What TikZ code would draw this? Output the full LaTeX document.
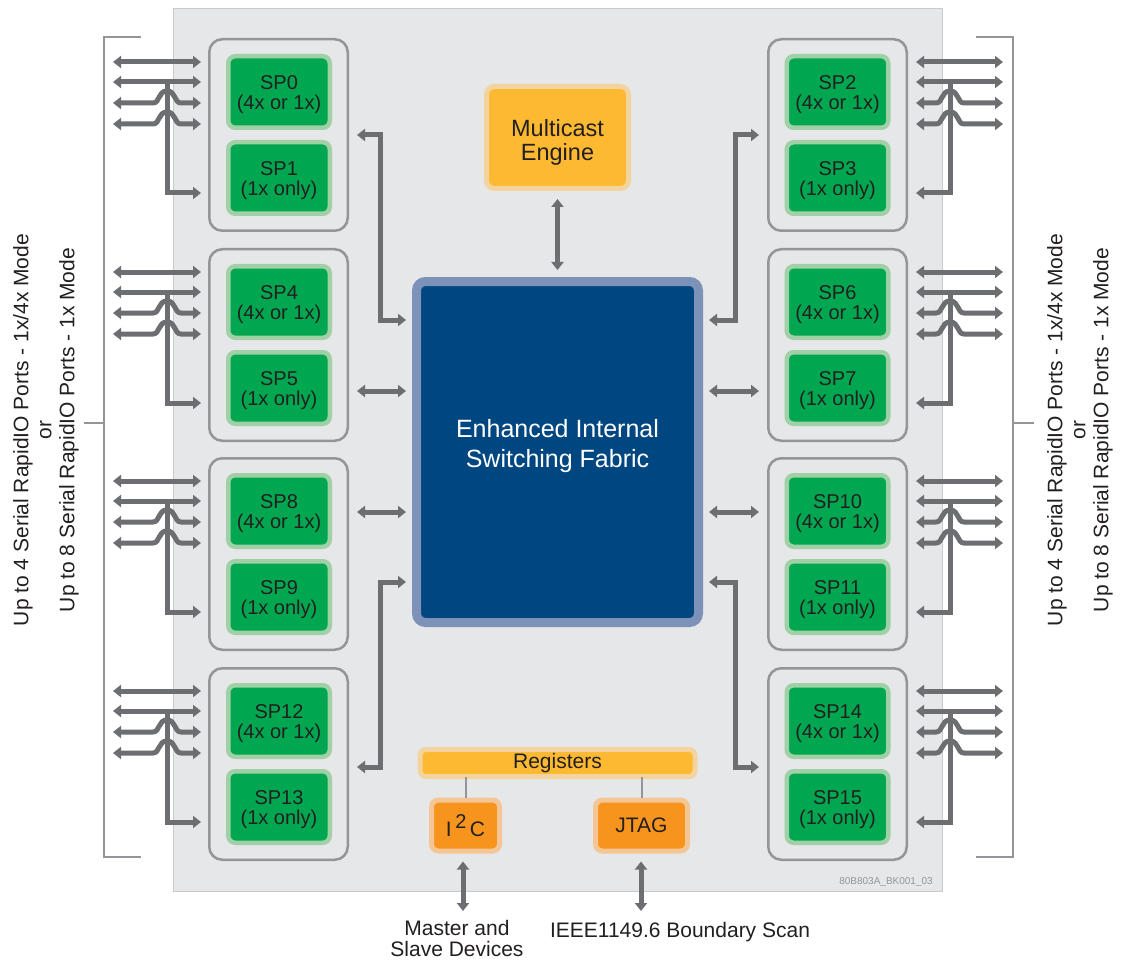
\documentclass[tikz,border=0pt]{standalone}
\usepackage{fontspec}
\setmainfont{Liberation Sans}
\usetikzlibrary{arrows.meta}
\definecolor{bgpanel}{HTML}{E6E7E8}
\definecolor{panelborder}{HTML}{C9CACC}
\definecolor{conn}{HTML}{6D6E71}
\definecolor{grpborder}{HTML}{939598}
\definecolor{spgreen}{HTML}{00A650}
\definecolor{spedge}{HTML}{9FD0A6}
\definecolor{fabblue}{HTML}{004680}
\definecolor{fabedge}{HTML}{7D92B8}
\definecolor{yel}{HTML}{FDB931}
\definecolor{yeledge}{HTML}{F3D49E}
\definecolor{orng}{HTML}{F7941D}
\definecolor{orngedge}{HTML}{F4C695}
\definecolor{txt}{HTML}{231F20}
\begin{document}
\begin{tikzpicture}[x=1pt,y=-1pt,
  grp/.style={draw=grpborder, line width=2.5pt, rounded corners=13pt, minimum width=138.5pt, minimum height=191.5pt, inner sep=0pt},
  spbox/.style={draw=spedge, line width=4.5pt, fill=spgreen, rounded corners=7pt, minimum width=101.5pt, minimum height=71.5pt, inner sep=0pt},
  sptext/.style={align=center, text=txt, font=\fontsize{20}{20}\selectfont, inner sep=0pt},
  fabbox/.style={draw=fabedge, line width=9pt, fill=fabblue, rounded corners=9pt, minimum width=282pt, minimum height=341pt},
  yelbox/.style={draw=yeledge, line width=5pt, fill=yel, rounded corners=8pt, inner sep=0pt, align=center, text=txt},
  orgbox/.style={draw=orngedge, line width=5pt, fill=orng, rounded corners=7pt, inner sep=0pt, align=center, text=txt, font=\fontsize{21}{22}\selectfont, minimum height=51pt},
  dbl/.style={draw=conn, line width=5pt, {Triangle[width=12pt,length=8pt]}-{Triangle[width=12pt,length=8pt]}, line join=miter},
  sgl/.style={draw=conn, line width=5pt, -{Triangle[width=12pt,length=8pt]}, line join=miter},
  brk/.style={draw=grpborder, line width=2pt},
  reglink/.style={draw=grpborder, line width=2pt},
  lbl/.style={text=txt, font=\fontsize{21}{21}\selectfont, align=center, inner sep=0pt}
]
\useasboundingbox (0,0) rectangle (1122,960);
\fill[white] (0,0) rectangle (1122,960);
% panel
\draw[fill=bgpanel, draw=panelborder, line width=1.2pt] (173.5,8.5) rectangle (942.5,891.5);

% groups and SP boxes
\foreach \k/\T in {0/38,1/248,2/457,3/667}{
  \pgfmathtruncatemacro\a{4*\k}
  \pgfmathtruncatemacro\b{4*\k+1}
  \pgfmathtruncatemacro\c{4*\k+2}
  \pgfmathtruncatemacro\d{4*\k+3}
  \node[grp] (gL\k) at (278.5,\T+97) {};
  \node[grp] (gR\k) at (837.5,\T+97) {};
  \node[spbox] (sp\a) at (279,\T+54) {};
  \node[spbox] (sp\b) at (279,\T+140) {};
  \node[spbox] (sp\c) at (837.5,\T+54) {};
  \node[spbox] (sp\d) at (837.5,\T+140) {};
  \node[sptext] at ([yshift=-3pt]sp\a) {SP\a\\(4x or 1x)};
  \node[sptext] at ([yshift=-3pt]sp\b) {SP\b\\(1x only)};
  \node[sptext] at ([yshift=-3pt]sp\c) {SP\c\\(4x or 1x)};
  \node[sptext] at ([yshift=-3pt]sp\d) {SP\d\\(1x only)};
  % left port arrows
  \draw[dbl] (113,\T+24) -- ([xshift=-7pt]gL\k.west |- 0,\T+24);
  \draw[dbl] (113,\T+44) -- ([xshift=-7pt]gL\k.west |- 0,\T+44);
  \draw[sgl] (167,\T+44) -- (167,\T+155) -- ([xshift=-7pt]gL\k.west |- 0,\T+155);
  \foreach \y in {65,86}{
    \draw[dbl] (113,\T+\y) -- (153,\T+\y) .. controls (160,\T+\y) and (158,\T+\y-12) .. (167,\T+\y-12) .. controls (176,\T+\y-12) and (174,\T+\y) .. (181,\T+\y) -- ([xshift=-7pt]gL\k.west |- 0,\T+\y);
  }
  % right port arrows
  \draw[dbl] ([xshift=8pt]gR\k.east |- 0,\T+24) -- (1003,\T+24);
  \draw[dbl] ([xshift=8pt]gR\k.east |- 0,\T+44) -- (1003,\T+44);
  \draw[sgl] (950,\T+44) -- (950,\T+155) -- ([xshift=8pt]gR\k.east |- 0,\T+155);
  \foreach \y in {65,86}{
    \draw[dbl] ([xshift=8pt]gR\k.east |- 0,\T+\y) -- (936,\T+\y) .. controls (943,\T+\y) and (941,\T+\y-12) .. (950,\T+\y-12) .. controls (959,\T+\y-12) and (957,\T+\y) .. (964,\T+\y) -- (1003,\T+\y);
  }
}

% fabric
\node[fabbox] (fab) at (557.5,452) {};
\node[text=white, align=center, font=\fontsize{25}{30}\selectfont, inner sep=0pt] (fabtxt) at ([yshift=6pt]fab.center) {Enhanced Internal\\Switching Fabric};
% multicast engine
\node[yelbox, minimum width=142pt, minimum height=102pt] (mce) at (557.5,137.5) {};
\node[text=txt, align=center, font=\fontsize{23.5}{24}\selectfont, inner sep=0pt] (mcetxt) at ([yshift=-5pt]mce.center) {Multicast\\Engine};
\draw[dbl] ([yshift=-8pt]mce.south) -- ([yshift=7pt]fab.north);

% fabric connectors left
\coordinate (lv) at (380,0);
\coordinate (rv) at (735,0);
\draw[dbl] ([xshift=8pt]gL0.east) -- (lv |- gL0.east) -- (lv |- 0,320) -- ([xshift=-6pt]fab.west |- 0,320);
\draw[dbl] ([xshift=8pt]gL1.east |- 0,391) -- ([xshift=-6pt]fab.west |- 0,391);
\draw[dbl] ([xshift=8pt]gL2.east |- 0,512) -- ([xshift=-6pt]fab.west |- 0,512);
\draw[dbl] ([xshift=8pt]gL3.east |- 0,767) -- (lv |- 0,767) -- (lv |- 0,582) -- ([xshift=-6pt]fab.west |- 0,582);
% fabric connectors right
\draw[dbl] ([xshift=-8pt]gR0.west) -- (rv |- gR0.west) -- (rv |- 0,320) -- ([xshift=6pt]fab.east |- 0,320);
\draw[dbl] ([xshift=-8pt]gR1.west |- 0,391) -- ([xshift=6pt]fab.east |- 0,391);
\draw[dbl] ([xshift=-8pt]gR2.west |- 0,512) -- ([xshift=6pt]fab.east |- 0,512);
\draw[dbl] ([xshift=-8pt]gR3.west |- 0,767) -- (rv |- 0,767) -- (rv |- 0,582) -- ([xshift=6pt]fab.east |- 0,582);

% registers, I2C, JTAG
\node[yelbox, minimum width=275pt, minimum height=27pt, font=\fontsize{21}{21}\selectfont, rounded corners=6pt] (reg) at (557.5,763) {Registers};
\node[orgbox, minimum width=68pt] (i2c) at (465.5,825.5) {I\,\raisebox{0.4em}{\fontsize{20}{20}\selectfont 2}\,C};
\node[orgbox, minimum width=92pt] (jtag) at (641.5,825.5) {JTAG};
\draw[reglink] (reg.south -| i2c) ++(0,-2) -- (i2c.north);
\draw[reglink] (reg.south -| jtag) ++(0,-2) -- (jtag.north);
\coordinate (mstr) at (463,911);
\coordinate (ieee) at (641,911);
\draw[dbl] ([yshift=-8pt]i2c.south -| mstr) -- (mstr);
\draw[dbl] ([yshift=-8pt]jtag.south -| ieee) -- (ieee);
\node[lbl] (mtxt) at (457,938) {Master and\\Slave Devices};
\node[lbl] (itxt) at (680,932) {IEEE1149.6 Boundary Scan};
\node[text=grpborder, font=\fontsize{10}{10}\selectfont, inner sep=0pt] (code) at (886,882) {80B803A\_BK001\_03};

% brackets
\draw[brk] (141,37) -- (104,37) -- (104,857) -- (141,857);
\draw[brk] (84,423) -- (104,423);
\draw[brk] (976,37) -- (1013,37) -- (1013,857) -- (976,857);
\draw[brk] (1013,423) -- (1034,423);
\node[lbl, rotate=90, font=\fontsize{21}{23}\selectfont] (ltxt) at (46,430) {Up to 4 Serial RapidIO Ports - 1x/4x Mode\\or\\Up to 8 Serial RapidIO Ports - 1x Mode};
\node[lbl, rotate=90, font=\fontsize{21}{23}\selectfont] (rtxt) at (1080,430) {Up to 4 Serial RapidIO Ports - 1x/4x Mode\\or\\Up to 8 Serial RapidIO Ports - 1x Mode};
\end{tikzpicture}
\end{document}
